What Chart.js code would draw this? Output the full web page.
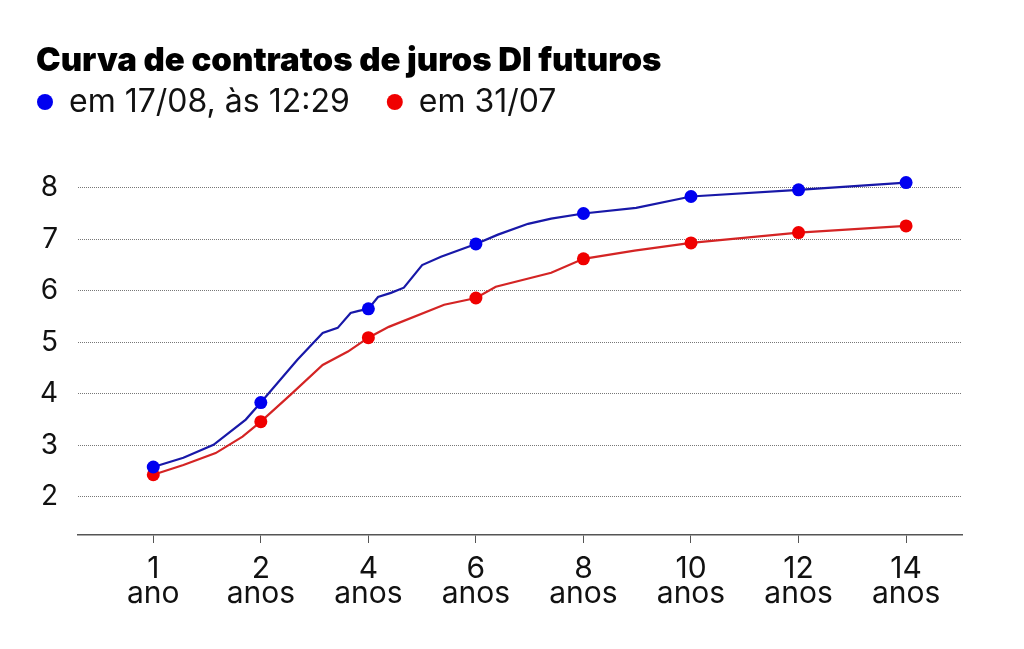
<!DOCTYPE html>
<html>
<head>
<meta charset="utf-8">
<script src="https://cdn.jsdelivr.net/npm/chart.js@4/dist/chart.umd.min.js"></script>
<style>
  html, body { margin: 0; padding: 0; background: #fff; }
  #wrap { width: 1024px; height: 649px; }
</style>
</head>
<body>
<div id="wrap"><canvas id="chart"></canvas></div>
<script>
const titleText = "Curva de contratos de juros DI futuros";
const seriesNames = ["em 17/08, às 12:29", "em 31/07"];

// vencimentos em anos e taxas (% a.a.)
const yearsAug = [1, 1.28, 1.56, 1.86, 2, 2.68, 3.15, 3.43, 3.67, 3.82, 4, 4.18, 4.42, 4.66, 5, 5.35, 6, 6.41, 6.97, 7.4, 8, 8.98, 10, 12, 14];
const ratesAug = [2.58, 2.76, 3.01, 3.50, 3.83, 4.66, 5.18, 5.28, 5.57, 5.61, 5.65, 5.88, 5.96, 6.06, 6.50, 6.66, 6.91, 7.09, 7.30, 7.40, 7.50, 7.61, 7.83, 7.96, 8.10];

const yearsJul = [1, 1.28, 1.58, 1.83, 2, 2.55, 3.15, 3.62, 4, 4.38, 5.41, 6, 6.37, 7.4, 8, 8.95, 10, 12, 14];
const ratesJul = [2.43, 2.62, 2.85, 3.17, 3.46, 3.98, 4.56, 4.82, 5.09, 5.30, 5.73, 5.86, 6.08, 6.35, 6.62, 6.78, 6.93, 7.13, 7.26];

const tickYears = [1, 2, 4, 6, 8, 10, 12, 14];
const tickUnits = ["ano", "anos", "anos", "anos", "anos", "anos", "anos", "anos"];
const yTicks = [2, 3, 4, 5, 6, 7, 8];

const FONT = "Inter, Roboto, sans-serif";

// o eixo do gráfico original é espaçado por vencimento: 1 ano, 2 anos e depois de 2 em 2
const toAxis = (yr) => (yr <= 2 ? yr - 1 : yr / 2);
const points = (years, rates) => years.map((yr, i) => ({ x: toAxis(yr), y: rates[i], yr }));
const markerRadius = (ctx) => (tickYears.includes(ctx.raw && ctx.raw.yr) ? 6.5 : 0);

const headline = {
  id: "headline",
  afterDraw(chart) {
    const { ctx } = chart;
    ctx.save();
    ctx.font = "900 33px " + FONT;
    ctx.fillStyle = "#000";
    ctx.textBaseline = "alphabetic";
    ctx.fillText(titleText, 36, 71);
    ctx.restore();
  },
};

new Chart(document.getElementById("chart"), {
  type: "line",
  data: {
    datasets: [
      {
        label: seriesNames[0],
        data: points(yearsAug, ratesAug),
        borderColor: "#1818a8",
        backgroundColor: "#0000f0",
        pointBackgroundColor: "#0000f0",
        pointBorderWidth: 0,
        pointRadius: markerRadius,
        pointHoverRadius: markerRadius,
        borderWidth: 2.2,
        tension: 0,
      },
      {
        label: seriesNames[1],
        data: points(yearsJul, ratesJul),
        borderColor: "#d42424",
        backgroundColor: "#f00000",
        pointBackgroundColor: "#f00000",
        pointBorderWidth: 0,
        pointRadius: markerRadius,
        pointHoverRadius: markerRadius,
        borderWidth: 2.2,
        tension: 0,
      },
    ],
  },
  options: {
    responsive: true,
    maintainAspectRatio: false,
    animation: false,
    layout: {
      padding: { top: 49, left: 0, right: 62, bottom: 14 },
    },
    scales: {
      x: {
        type: "linear",
        min: -0.7,
        max: 7.52,
        afterBuildTicks: (axis) => {
          axis.ticks = tickYears.map((yr) => ({ value: toAxis(yr) }));
        },
        afterFit: (axis) => {
          axis.height = 100;
        },
        ticks: {
          autoSkip: false,
          maxRotation: 0,
          padding: 14,
          color: "#111",
          font: { family: FONT, size: 30, lineHeight: 0.83 },
          callback: (value, i) => [String(tickYears[i]), tickUnits[i]],
        },
        grid: {
          drawOnChartArea: false,
          drawTicks: true,
          tickLength: 8,
          color: "#555",
        },
        border: { display: true, color: "#555", width: 1.5 },
      },
      y: {
        min: 1.26,
        max: 9.16,
        afterBuildTicks: (axis) => {
          axis.ticks = yTicks.map((v) => ({ value: v }));
        },
        afterFit: (axis) => {
          axis.width = 78;
        },
        ticks: {
          padding: 20,
          color: "#111",
          font: { family: FONT, size: 28 },
        },
        grid: {
          drawTicks: false,
          color: "#777",
          lineWidth: 1,
        },
        border: { display: false, dash: [1, 1] },
      },
    },
    plugins: {
      title: { display: false },
      tooltip: { enabled: false },
      legend: {
        position: "top",
        align: "start",
        labels: {
          usePointStyle: true,
          pointStyle: "circle",
          pointStyleWidth: 16,
          boxHeight: 11.3,
          padding: 37,
          color: "#111",
          font: { family: FONT, size: 32 },
        },
      },
    },
  },
  plugins: [headline],
});
</script>
</body>
</html>
